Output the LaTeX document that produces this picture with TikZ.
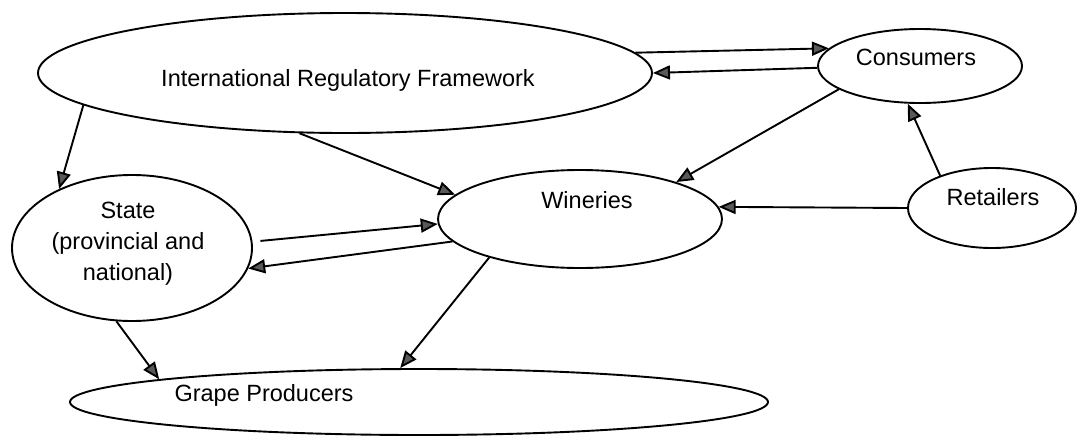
\documentclass[tikz,border=0pt]{standalone}
\usepackage{fontspec}
\setmainfont{Liberation Sans}
\usetikzlibrary{shapes.geometric,arrows.meta}
\begin{document}
\begin{tikzpicture}[x=1pt,y=-1pt,
  ell/.style={draw, ellipse, inner sep=0pt, line width=1.9pt},
  lbl/.style={font=\fontsize{23.5}{31}\selectfont, align=center, inner sep=0pt},
  arr/.style={line width=1.9pt, -{Triangle[length=17pt,width=14pt,fill=black!65]}}]
\useasboundingbox (0,0) rectangle (1077,437);
\node[ell, minimum width=614pt, minimum height=120pt,
  label={[lbl,xshift=3pt,yshift=-7pt]center:International Regulatory Framework}] (irf) at (345,73) {};
\node[ell, minimum width=204pt, minimum height=74pt,
  label={[lbl,xshift=-4pt,yshift=9pt]center:Consumers}] (cons) at (920,66) {};
\node[ell, minimum width=284pt, minimum height=98pt,
  label={[lbl,xshift=7pt,yshift=19pt]center:Wineries}] (win) at (580,219) {};
\node[ell, minimum width=168pt, minimum height=80pt,
  label={[lbl,xshift=1pt,yshift=11pt]center:Retailers}] (ret) at (992,208) {};
\node[ell, minimum width=240pt, minimum height=146pt,
  label={[lbl,xshift=-4pt,yshift=4pt]center:State\\(provincial and\\national)}] (state) at (132,248) {};
\node[ell, minimum width=698pt, minimum height=66pt,
  label={[lbl,xshift=-155pt,yshift=7pt]center:Grape Producers}] (grape) at (419,402) {};
% connectors
\draw[arr] (irf.4.4) -- (cons.169.9);
\draw[arr] (cons.181.1) -- (irf.0.4);
\draw[arr] (cons.196.3) -- (win.21.9);
\draw[arr] (ret.148.5) -- (cons.252.4);
\draw[arr] (ret.180) -- (win.5.1);
\draw[arr] (irf.187.4) -- (state.141.6);
\draw[arr] (irf.233.1) -- (win.169.9);
\draw[arr, shorten <=8pt] (state.3.1) -- (win.182.3);
\draw[arr] (win.190.2) -- (state.350.8);
\draw[arr] (state.258.7) -- (grape.175.1);
\draw[arr] (win.203.4) -- (grape.119.5);
\end{tikzpicture}
\end{document}
